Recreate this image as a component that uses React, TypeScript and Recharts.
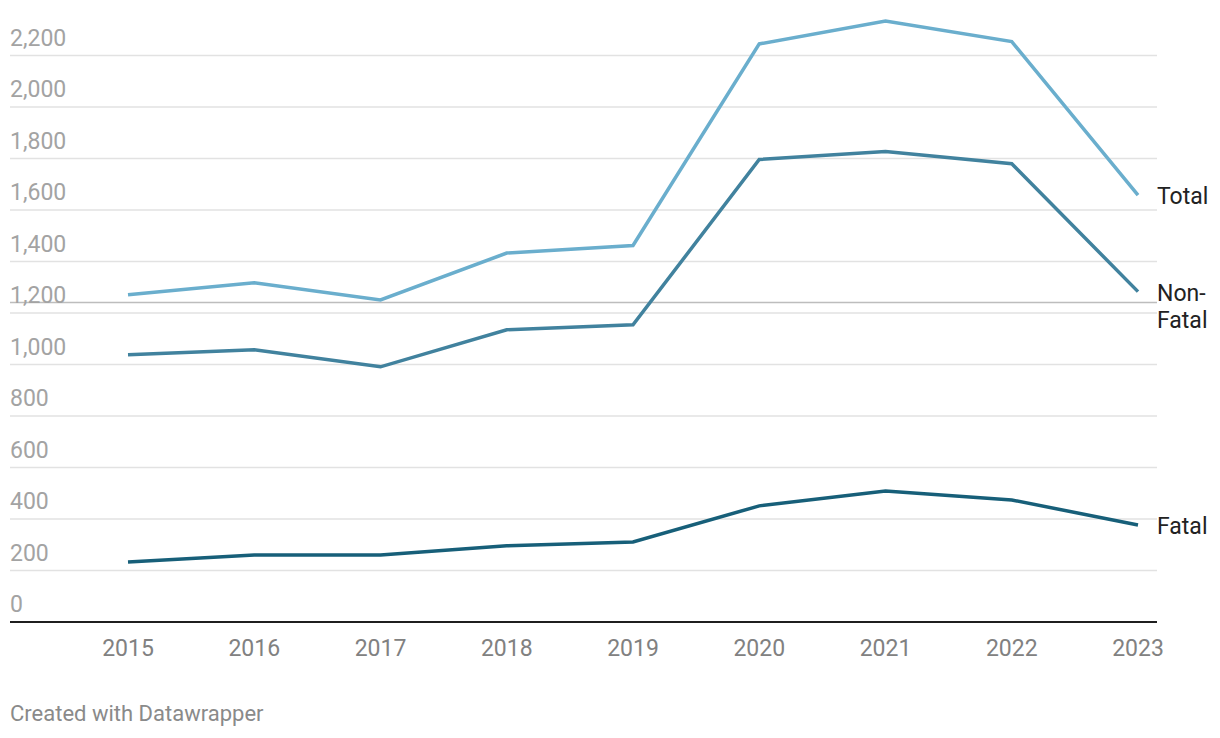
import React from 'react';
import { LineChart, Line, XAxis, YAxis, CartesianGrid, ReferenceLine } from 'recharts';

const years = ['2015', '2016', '2017', '2018', '2019', '2020', '2021', '2022', '2023'];
const totalCounts = [1271, 1317, 1251, 1433, 1462, 2245, 2334, 2254, 1658];
const nonFatalCounts = [1038, 1057, 991, 1135, 1154, 1796, 1827, 1780, 1283];
const fatalCounts = [233, 260, 260, 296, 311, 451, 509, 474, 377];
const yTicks = [0, 200, 400, 600, 800, 1000, 1200, 1400, 1600, 1800, 2000, 2200];
const markerLine = 1241;

const rows = years.map((year, i) => ({
    year,
    total: totalCounts[i],
    nonFatal: nonFatalCounts[i],
    fatal: fatalCounts[i],
}));

const FONT = 'Roboto, "Noto Sans", sans-serif';

const YTick = (props: any) => {
    const { y, payload } = props;
    return (
        <text x={10} y={y - 10} fill="#a3a3a3" fontSize={23} fontFamily={FONT} textAnchor="start">
            {Number(payload.value).toLocaleString('en-US')}
        </text>
    );
};

const XTick = (props: any) => {
    const { x, payload } = props;
    return (
        <text x={x} y={656} fill="#818181" fontSize={23} fontFamily={FONT} textAnchor="middle">
            {payload.value}
        </text>
    );
};

// draws the series name to the right of the last point only
const endLabel = (lines: string[]) => (props: any) => {
    if (props.index !== years.length - 1) return <g />;
    return (
        <text x={props.x + 19} y={props.y} fill="#222" fontSize={23} fontFamily={FONT} textAnchor="start">
            {lines.map((line, i) => (
                <tspan key={line} x={props.x + 19} dy={i === 0 ? 9 : 27}>
                    {line}
                </tspan>
            ))}
        </text>
    );
};

export default function App() {
    return (
        <div style={{ position: 'absolute', left: 0, top: 0, width: 1220, height: 738, background: '#fff' }}>
            <LineChart width={1220} height={738} data={rows} margin={{ top: 4, right: 63, left: 9, bottom: 0 }}>
                <CartesianGrid vertical={false} stroke="#e2e2e2" strokeWidth={1.5} horizontalValues={yTicks} />
                <XAxis
                    dataKey="year"
                    height={116}
                    padding={{ left: 118, right: 19 }}
                    axisLine={{ stroke: '#1f1f1f', strokeWidth: 2 }}
                    tickLine={false}
                    tick={<XTick />}
                    interval={0}
                />
                <YAxis
                    width={1}
                    domain={[0, 2400]}
                    ticks={yTicks}
                    axisLine={false}
                    tickLine={false}
                    tick={<YTick />}
                    interval={0}
                />
                <ReferenceLine y={markerLine} stroke="#bdbdbd" strokeWidth={1.5} />
                <Line
                    dataKey="total"
                    stroke="#6aaecd"
                    strokeWidth={3.5}
                    dot={false}
                    isAnimationActive={false}
                    label={endLabel(['Total'])}
                />
                <Line
                    dataKey="nonFatal"
                    stroke="#41829e"
                    strokeWidth={3.5}
                    dot={false}
                    isAnimationActive={false}
                    label={endLabel(['Non-', 'Fatal'])}
                />
                <Line
                    dataKey="fatal"
                    stroke="#175f79"
                    strokeWidth={3.5}
                    dot={false}
                    isAnimationActive={false}
                    label={endLabel(['Fatal'])}
                />
            </LineChart>
            <div
                style={{
                    position: 'absolute',
                    left: 10,
                    top: 701,
                    fontFamily: FONT,
                    fontSize: 22,
                    color: '#8a8a8a',
                }}
            >
                Created with Datawrapper
            </div>
        </div>
    );
}
